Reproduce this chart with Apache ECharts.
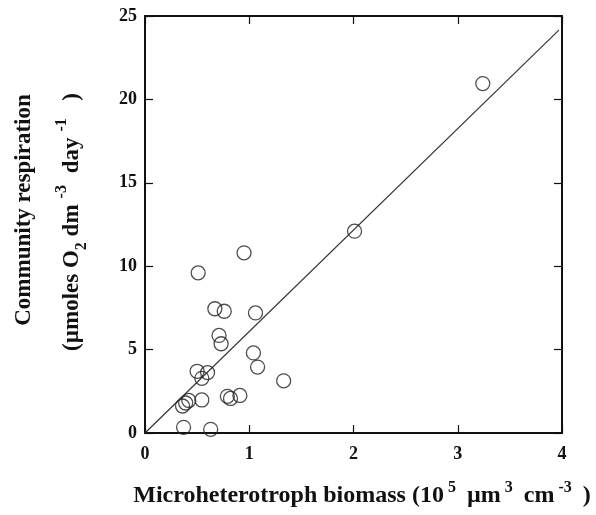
<!DOCTYPE html>
<html>
<head>
<meta charset="utf-8">
<script src="https://cdn.jsdelivr.net/npm/echarts@6/dist/echarts.min.js"></script>
<style>
  html, body { margin: 0; padding: 0; background: #fff; }
  #chart { width: 596px; height: 515px; }
</style>
</head>
<body>
<div id="chart"></div>
<script>
// biomass (10^5 um3 cm-3)
var biomass = [0.95, 0.51, 0.67, 0.76, 1.06, 0.71, 0.73, 1.04, 1.08, 0.50, 0.60, 0.545,
  1.33, 0.79, 0.82, 0.91, 0.545, 0.42, 0.39, 0.36, 0.37, 0.63, 2.01, 3.24];
// community respiration (umoles O2 dm-3 day-1)
var respiration = [10.8, 9.6, 7.45, 7.3, 7.2, 5.85, 5.35, 4.8, 3.95, 3.7, 3.62, 3.28,
  3.13, 2.2, 2.07, 2.25, 1.98, 1.95, 1.8, 1.62, 0.34, 0.22, 12.1, 20.95];
// fitted line through origin
var fitX = [0, 3.97];
var fitY = [0, 24.15];

var xTicks = [0, 1, 2, 3, 4];
var yTicks = [0, 5, 10, 15, 20, 25];

var points = biomass.map(function(v, i) { return [v, respiration[i]]; });
var fitLine = fitX.map(function(v, i) { return [v, fitY[i]]; });

var chart = echarts.init(document.getElementById('chart'));
var font = '"Liberation Serif", "DejaVu Serif", serif';

function axis(pos, showLabel) {
  return {
    type: 'value', position: pos,
    axisLine: { show: true, onZero: false, lineStyle: { color: '#111', width: 2 } },
    axisTick: { show: true, inside: true, length: 8, lineStyle: { color: '#111', width: 1.2 } },
    splitLine: { show: false },
    axisLabel: { show: showLabel, color: '#111', fontFamily: font, fontWeight: 'bold', fontSize: 18 }
  };
}

var xBottom = axis('bottom', true);
var xTop = axis('top', false);
var yLeft = axis('left', true);
var yRight = axis('right', false);
[xBottom, xTop].forEach(function(a) {
  a.min = xTicks[0]; a.max = xTicks[xTicks.length - 1]; a.interval = 1;
});
[yLeft, yRight].forEach(function(a) {
  a.min = yTicks[0]; a.max = yTicks[yTicks.length - 1]; a.interval = 5;
});
xBottom.axisLabel.margin = 12;
yLeft.axisLabel.margin = 8;

var option = {
  backgroundColor: '#fff',
  animation: false,
  grid: { left: 145, right: 34, top: 16, bottom: 82 },
  xAxis: [xBottom, xTop],
  yAxis: [yLeft, yRight],
  graphic: [{
    type: 'text', x: 24, y: 210, rotation: Math.PI / 2,
    style: {
      text: 'Community respiration', align: 'center', verticalAlign: 'middle',
      fontFamily: font, fontWeight: 'bold', fontSize: 23, fill: '#111'
    }
  }, {
    type: 'text', x: 72, y: 222, rotation: Math.PI / 2,
    style: {
      text: '{n|(µmoles O}{sub|2}{n| dm}{sup|-3}{n| day}{sup|-1}{n|  )}',
      align: 'center', verticalAlign: 'middle', fill: '#111',
      rich: {
        n: { fontFamily: font, fontWeight: 'bold', fontSize: 23, lineHeight: 36, fill: '#111' },
        sup: { fontFamily: font, fontWeight: 'bold', fontSize: 16, lineHeight: 36, verticalAlign: 'top', padding: [0, 6, 0, 6], fill: '#111' },
        sub: { fontFamily: font, fontWeight: 'bold', fontSize: 16, lineHeight: 36, verticalAlign: 'bottom', fill: '#111' }
      }
    }
  }, {
    type: 'text', x: 362, y: 496,
    style: {
      text: '{n|Microheterotroph biomass (10}{sup|5}{n| µm}{sup|3}{n| cm}{sup|-3}{n| )}',
      align: 'center', verticalAlign: 'middle', fill: '#111',
      rich: {
        n: { fontFamily: font, fontWeight: 'bold', fontSize: 24, lineHeight: 32, fill: '#111' },
        sup: { fontFamily: font, fontWeight: 'bold', fontSize: 16, lineHeight: 32, verticalAlign: 'top', padding: [0, 5, 0, 4], fill: '#111' }
      }
    }
  }],
  series: [{
    type: 'line', data: fitLine, symbol: 'none',
    lineStyle: { color: '#333', width: 1.2 }, z: 2
  }, {
    type: 'scatter', data: points, symbol: 'circle', symbolSize: 14,
    itemStyle: { color: 'rgba(0,0,0,0)', borderColor: '#222', borderWidth: 1.3 }, z: 3
  }]
};
chart.setOption(option);
</script>
</body>
</html>
